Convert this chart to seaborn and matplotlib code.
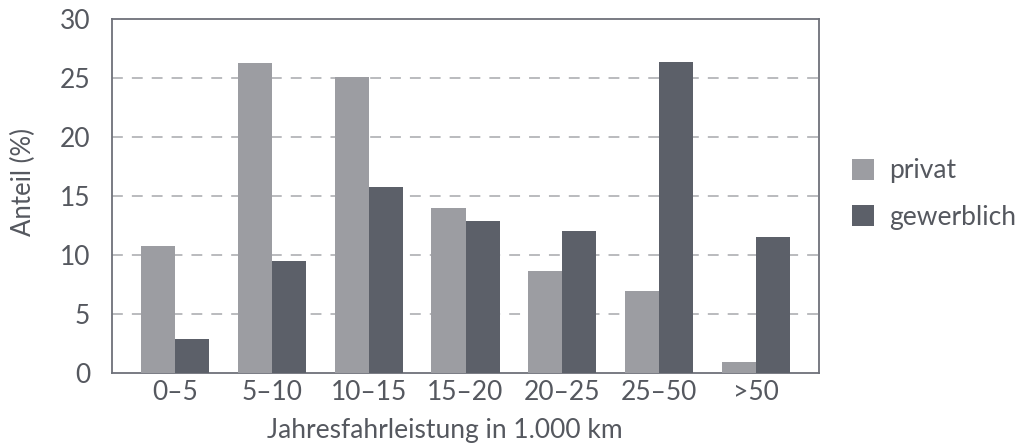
import pandas as pd
import matplotlib.pyplot as plt
import seaborn as sns

# Werte
kategorien = ['0–5', '5–10', '10–15', '15–20', '20–25', '25–50', '>50']
privat = [10.8, 26.3, 25.1, 14.0, 8.7, 7.0, 1.0]
gewerblich = [2.9, 9.5, 15.8, 12.9, 12.1, 26.4, 11.6]

df = pd.DataFrame({'Kategorie': kategorien * 2,
                   'Anteil': privat + gewerblich,
                   'Gruppe': ['privat'] * len(privat) + ['gewerblich'] * len(gewerblich)})

sns.set_style('white')
plt.rcParams['font.family'] = ['Lato', 'DejaVu Sans']

txt = '#55585f'
spine_col = '#6e7179'

fig = plt.figure(figsize=(10.22, 4.43), dpi=100)
ax = fig.add_axes([0.110, 0.157, 0.691, 0.799])

sns.barplot(data=df, x='Kategorie', y='Anteil', hue='Gruppe',
            palette={'privat': '#9c9da2', 'gewerblich': '#5c6069'},
            width=0.704, saturation=1, linewidth=0, ax=ax, zorder=3)

ax.set_xlim(-0.652, 6.652)
ax.set_ylim(0, 30)
ax.set_yticks([0, 5, 10, 15, 20, 25, 30])

# gestrichelte Hilfslinien
for y in [5, 10, 15, 20, 25]:
    ax.axhline(y, color='#b4b5b9', lw=1.3, ls=(0, (6, 5)), zorder=1)

for s in ax.spines.values():
    s.set_visible(True)
    s.set_color(spine_col)
    s.set_linewidth(1.3)

ax.tick_params(axis='y', length=12, width=1.3, color=spine_col, pad=4,
               labelsize=19, labelcolor=txt)
ax.tick_params(axis='x', length=0, pad=5, labelsize=19, labelcolor=txt)

ax.set_ylabel('Anteil (%)', fontsize=18.5, color=txt)
ax.yaxis.set_label_coords(-0.108, 0.54)
ax.set_xlabel('Jahresfahrleistung in 1.000 km', fontsize=19, color=txt)
ax.xaxis.set_label_coords(0.47, -0.125)

leg = ax.legend(loc='center left', bbox_to_anchor=(1.047, 0.507), frameon=False,
                fontsize=19, handlelength=0.85, handleheight=0.85,
                labelspacing=0.8, handletextpad=0.57,
                borderaxespad=0, borderpad=0)
for t in leg.get_texts():
    t.set_color(txt)

fig.savefig('out.png', dpi=100)
